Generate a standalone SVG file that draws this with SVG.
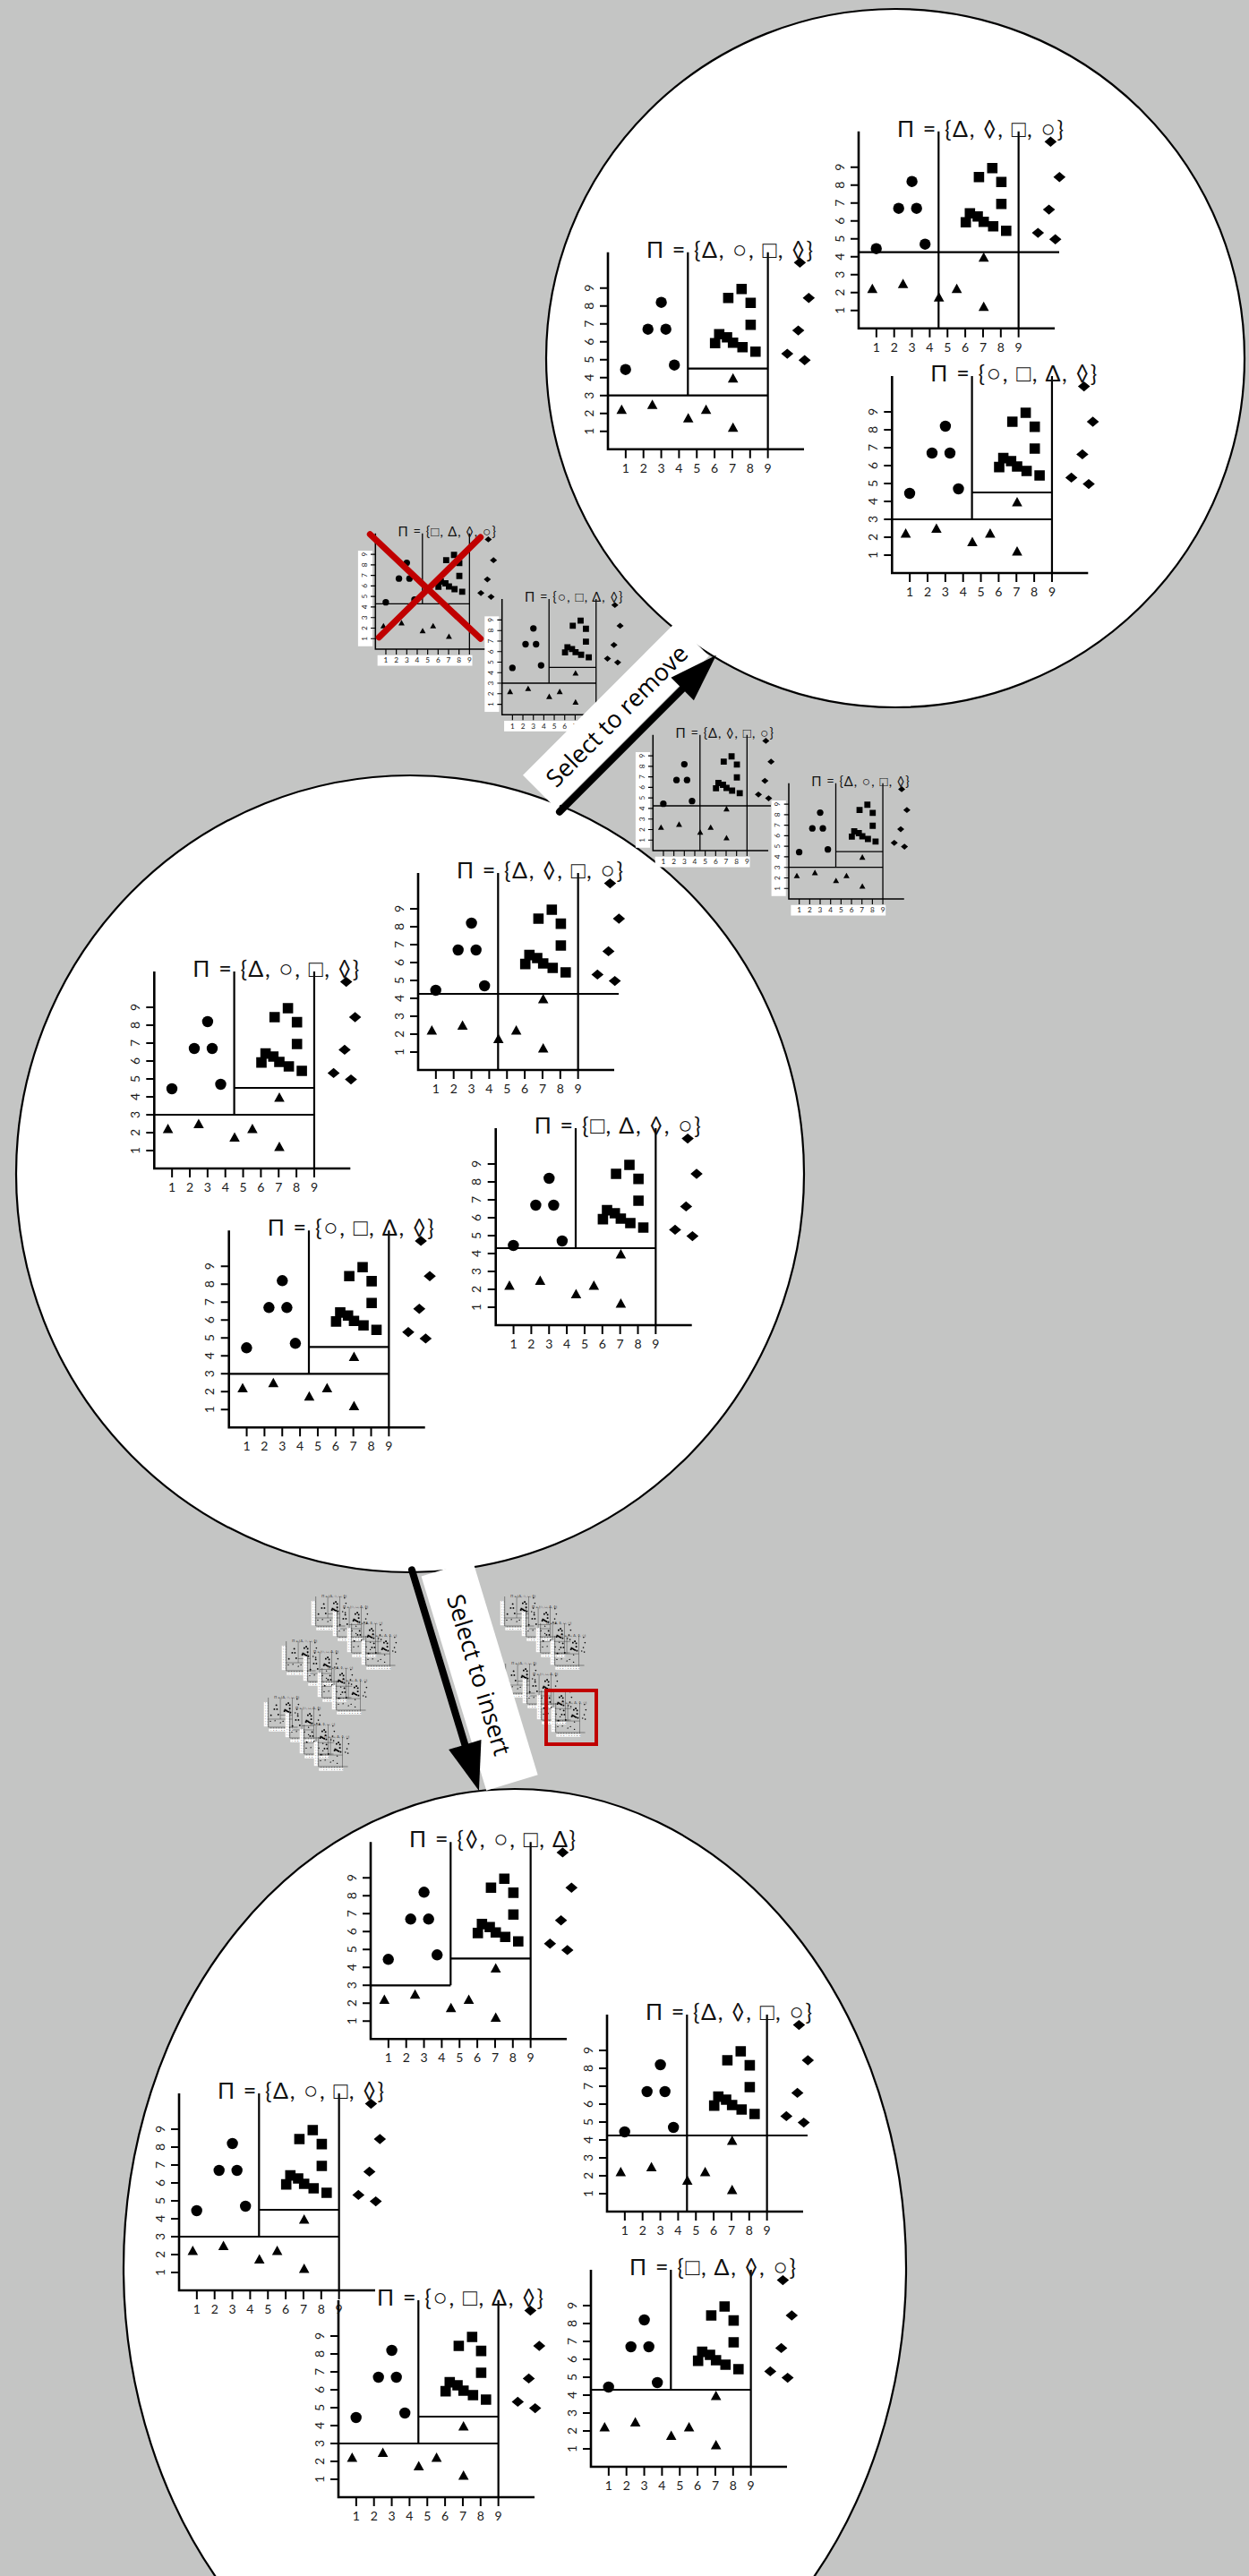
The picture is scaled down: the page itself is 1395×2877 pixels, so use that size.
<svg xmlns="http://www.w3.org/2000/svg" xmlns:xlink="http://www.w3.org/1999/xlink" width="1395" height="2877" viewBox="0 0 1395 2877">
<style>
.ax{stroke:#000;stroke-width:2.6;fill:none}
.tk{stroke:#000;stroke-width:2;fill:none}
.pt{stroke:#000;stroke-width:2.2;fill:none}
.lb{fill:#fff}
.tl{font-family:Lato,'Liberation Sans','DejaVu Sans',sans-serif;font-size:14px;fill:#1a1a1a;text-anchor:middle}
.tt{font-family:Lato,'DejaVu Sans',sans-serif;font-size:25px;fill:#111}
.o{font-family:'Liberation Sans','DejaVu Sans',sans-serif;font-size:27px;fill:#111}
.q{font-family:'Liberation Sans','DejaVu Sans',sans-serif;font-size:26px;fill:#111}
.bub{fill:#fff;stroke:#000;stroke-width:2.2}
.band{fill:#fff}
.cap{font-family:'Open Sans',sans-serif;font-size:27px;fill:#000;text-anchor:middle}
.arr{stroke:#000;stroke-width:8;stroke-linecap:round;fill:none}
.red{stroke:#c00000;fill:none;stroke-linecap:round}
</style>
<defs>
<g id="base">
<rect class="lb" x="-33" y="-187" width="27.5" height="181.5"/>
<rect class="lb" x="4" y="11.5" width="180" height="20"/>
<path class="tk" d="M19.85,0v10M39.7,0v10M59.55,0v10M79.4,0v10M99.25,0v10M119.1,0v10M138.95,0v10M158.8,0v10M178.65,0v10M0,-20h-9M0,-40h-9M0,-60h-9M0,-80h-9M0,-100h-9M0,-120h-9M0,-140h-9M0,-160h-9M0,-180h-9"/>
<path class="ax" d="M0,-220V0H219"/>
<g class="tl">
<text x="19.85" y="26">1</text><text x="39.7" y="26">2</text><text x="59.55" y="26">3</text><text x="79.4" y="26">4</text><text x="99.25" y="26">5</text><text x="119.1" y="26">6</text><text x="138.95" y="26">7</text><text x="158.8" y="26">8</text><text x="178.65" y="26">9</text>
</g>
<g class="tl" transform="rotate(-90)">
<text x="20" y="-16.5">1</text><text x="40" y="-16.5">2</text><text x="60" y="-16.5">3</text><text x="80" y="-16.5">4</text><text x="100" y="-16.5">5</text><text x="120" y="-16.5">6</text><text x="140" y="-16.5">7</text><text x="160" y="-16.5">8</text><text x="180" y="-16.5">9</text>
</g>
<g fill="#000">
<circle cx="19.7" cy="-89" r="6.2"/><circle cx="44.7" cy="-134" r="6.2"/><circle cx="64.7" cy="-134" r="6.2"/><circle cx="59.6" cy="-164" r="6.2"/><circle cx="74.2" cy="-94" r="6.2"/>
<path d="M113.9,-124.2h11.6v11.6h-11.6zM118.5,-134.2h11.6v11.6h-11.6zM127.2,-130.8h11.6v11.6h-11.6zM133.9,-124.8h11.6v11.6h-11.6zM144.5,-119.8h11.6v11.6h-11.6zM159,-114.8h11.6v11.6h-11.6zM128.6,-174.8h11.6v11.6h-11.6zM143.5,-184.8h11.6v11.6h-11.6zM153.6,-169.2h11.6v11.6h-11.6zM153.6,-144.8h11.6v11.6h-11.6z"/>
<path d="M15.3,-49.9l5.8,10.5h-11.6zM49.6,-55.5l5.8,10.5h-11.6zM89.7,-40.5l5.8,10.5h-11.6zM109.6,-49.9l5.8,10.5h-11.6zM139.7,-29.9l5.8,10.5h-11.6zM139.7,-84.9l5.8,10.5h-11.6z"/>
<path d="M214.4,-214.1l6.8,5.7l-6.8,5.7l-6.8,-5.7zM224.3,-174.7l6.8,5.7l-6.8,5.7l-6.8,-5.7zM212.6,-138.3l6.8,5.7l-6.8,5.7l-6.8,-5.7zM200.3,-112.3l6.8,5.7l-6.8,5.7l-6.8,-5.7zM219.7,-105.1l6.8,5.7l-6.8,5.7l-6.8,-5.7z"/>
</g>
</g>
<g id="pA"><use href="#base"/><path class="pt" d="M0,-60H178.65M89.3,-220V-60M89.3,-90H178.65M178.65,-220V0"/></g>
<g id="pB"><use href="#base"/><path class="pt" d="M0,-85H224M89.3,-220V0M178.65,-220V0"/></g>
<g id="pD"><use href="#base"/><path class="pt" d="M0,-86H178.65M89.3,-220V-86M178.65,-220V0"/></g>
<g id="pE"><use href="#base"/><path class="pt" d="M0,-60H89.3M89.3,-220V-60M89.3,-90H178.65M178.65,-220V0"/></g>
<text id="tA" class="tt" x="43" y="-214" textLength="186">Π = {Δ, <tspan class="o">○</tspan>, <tspan class="q">□</tspan>, ◊}</text>
<text id="tB" class="tt" x="43" y="-214" textLength="186">Π = {Δ, ◊, <tspan class="q">□</tspan>, <tspan class="o">○</tspan>}</text>
<text id="tC" class="tt" x="43" y="-214" textLength="186">Π = {<tspan class="o">○</tspan>, <tspan class="q">□</tspan>, Δ, ◊}</text>
<text id="tD" class="tt" x="43" y="-214" textLength="186">Π = {<tspan class="q">□</tspan>, Δ, ◊, <tspan class="o">○</tspan>}</text>
<text id="tE" class="tt" x="43" y="-214" textLength="186">Π = {◊, <tspan class="o">○</tspan>, <tspan class="q">□</tspan>, Δ}</text>
<g id="tg">
<g transform="scale(0.15)"><use href="#pA"/><use href="#tA"/></g>
<g transform="translate(24,12) scale(0.15)"><use href="#pA"/><use href="#tC"/></g>
<g transform="translate(40,30) scale(0.15)"><use href="#pB"/><use href="#tB"/></g>
<g transform="translate(56,44) scale(0.15)"><use href="#pD"/><use href="#tD"/></g>
</g>
</defs>
<rect width="1395" height="2877" fill="#c4c5c4"/>
<g id="bubbles">
<circle id="bubble-top" class="bub" cx="1000" cy="400" r="390"/>
<ellipse id="bubble-mid" class="bub" cx="458" cy="1311" rx="440" ry="445"/>
<ellipse id="bubble-bottom" class="bub" cx="575" cy="2533" rx="437" ry="535"/>
</g>
<g id="p1" transform="translate(679,501.7)"><use href="#pA"/><use href="#tA"/></g>
<g id="p2" transform="translate(959,366.7)"><use href="#pB"/><use href="#tB"/></g>
<g id="p3" transform="translate(996.3,640)"><use href="#pA"/><use href="#tC"/></g>
<g id="p8" transform="translate(467,1195)"><use href="#pB"/><use href="#tB"/></g>
<g id="p9" transform="translate(172.3,1305)"><use href="#pA"/><use href="#tA"/></g>
<g id="p10" transform="translate(553.7,1480)"><use href="#pD"/><use href="#tD"/></g>
<g id="p11" transform="translate(255.7,1594.3)"><use href="#pA"/><use href="#tC"/></g>
<g id="p12" transform="translate(414,2277.3)"><use href="#pE"/><use href="#tE"/></g>
<g id="p13" transform="translate(678,2470)"><use href="#pB"/><use href="#tB"/></g>
<g id="p14" transform="translate(200,2558)"><use href="#pA"/><use href="#tA"/></g>
<g id="p15" transform="translate(378,2789)"><use href="#pA"/><use href="#tC"/></g>
<g id="p16" transform="translate(660,2755)"><use href="#pD"/><use href="#tD"/></g>
<g id="p4" transform="translate(419.3,725) scale(0.588)"><use href="#pD"/><use href="#tD"/></g>
<g id="p5" transform="translate(560.7,798.3) scale(0.588)"><use href="#pA"/><use href="#tC"/></g>
<g id="p6" transform="translate(729.3,950) scale(0.588)"><use href="#pB"/><use href="#tB"/></g>
<g id="p7" transform="translate(881,1004) scale(0.588)"><use href="#pA"/><use href="#tA"/></g>
<g id="t1" transform="translate(352.7,1816)"><use href="#tg"/></g>
<g id="t2" transform="translate(319.7,1866)"><use href="#tg"/></g>
<g id="t3" transform="translate(299.7,1929)"><use href="#tg"/></g>
<g id="t4" transform="translate(563.7,1816)"><use href="#tg"/></g>
<g id="t5" transform="translate(564.7,1891)"><use href="#tg"/></g>
<g id="marks">
<path class="red" stroke-width="7" d="M413.3,596.7L536.7,713.3M536.7,600L423.3,711.7"/>
<rect class="red" stroke-width="4" x="610" y="1888" width="56" height="60"/>
</g>
<g id="connectors">
<g id="remove" transform="translate(625,906.7) rotate(-45)">
<rect class="band" x="0" y="-58" width="241" height="53"/>
<text class="cap" x="121" y="-21">Select to remove</text>
<line class="arr" x1="0" y1="0" x2="198" y2="0"/>
<path d="M194,-18L247.5,0L194,18Z"/>
</g>
<g id="insert" transform="translate(460,1753.3) rotate(73.1)">
<rect class="band" x="10" y="-68" width="250" height="60"/>
<text class="cap" x="134" y="-28">Select to insert</text>
<line class="arr" x1="0" y1="0" x2="208" y2="0"/>
<path d="M204,-19L257.8,0L204,19Z"/>
</g>
</g>
</svg>
